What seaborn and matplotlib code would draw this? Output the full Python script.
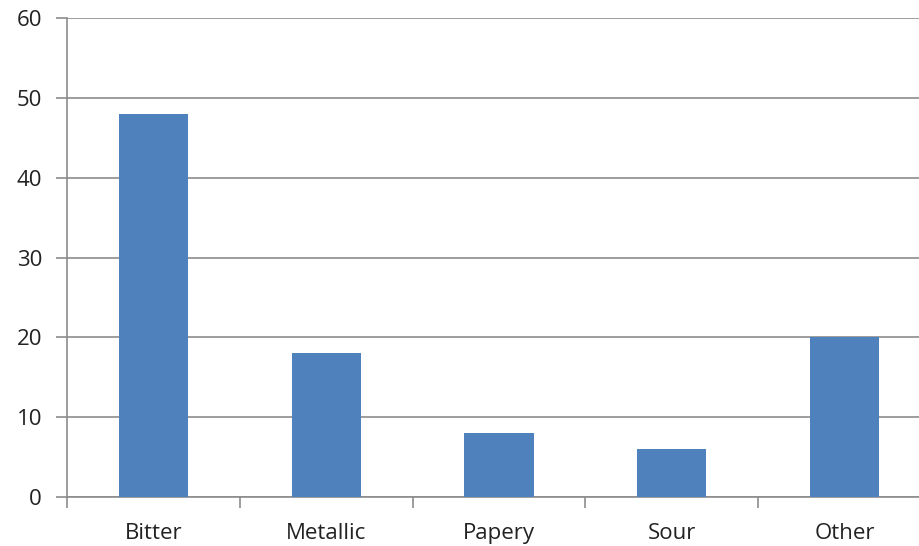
import pandas as pd
import matplotlib.pyplot as plt
import seaborn as sns

categories = ["Bitter", "Metallic", "Papery", "Sour", "Other"]
counts = [48, 18, 8, 6, 20]

df = pd.DataFrame({"Taste": categories, "Count": counts})

sns.set_style("white")
plt.rcParams["font.family"] = ["Open Sans", "DejaVu Sans"]

fig = plt.figure(figsize=(9.19, 5.46), dpi=100)
ax = fig.add_axes([67 / 919, 49 / 546, 864 / 919, 479 / 546])

sns.barplot(data=df, x="Taste", y="Count", color="#4F81BD", saturation=1,
            width=0.4, ax=ax, zorder=3, linewidth=0)

ax.set_ylim(0, 60)
ax.set_xlim(-0.5, 4.5)
ax.set_yticks(range(0, 61, 10))
ax.yaxis.grid(True, color="#8C8C8C", linewidth=1.2, zorder=0)
ax.set_axisbelow(True)
ax.set_xlabel("")
ax.set_ylabel("")

ax.set_xticks([i - 0.5 for i in range(6)], minor=True)
ax.tick_params(axis="x", which="major", bottom=False, length=0, labelsize=16, pad=19,
               colors="#222222")
ax.tick_params(axis="x", which="minor", bottom=True, length=8, width=1.2, color="#8C8C8C",
               direction="out")
ax.tick_params(axis="y", left=True, length=8, width=1.2, color="#8C8C8C", labelsize=16, pad=10,
               labelcolor="#222222", direction="out")

for side in ["top", "right"]:
    ax.spines[side].set_visible(False)
for side in ["left", "bottom"]:
    ax.spines[side].set_color("#8C8C8C")
    ax.spines[side].set_linewidth(1.2)

fig.savefig("out.png", dpi=100)
